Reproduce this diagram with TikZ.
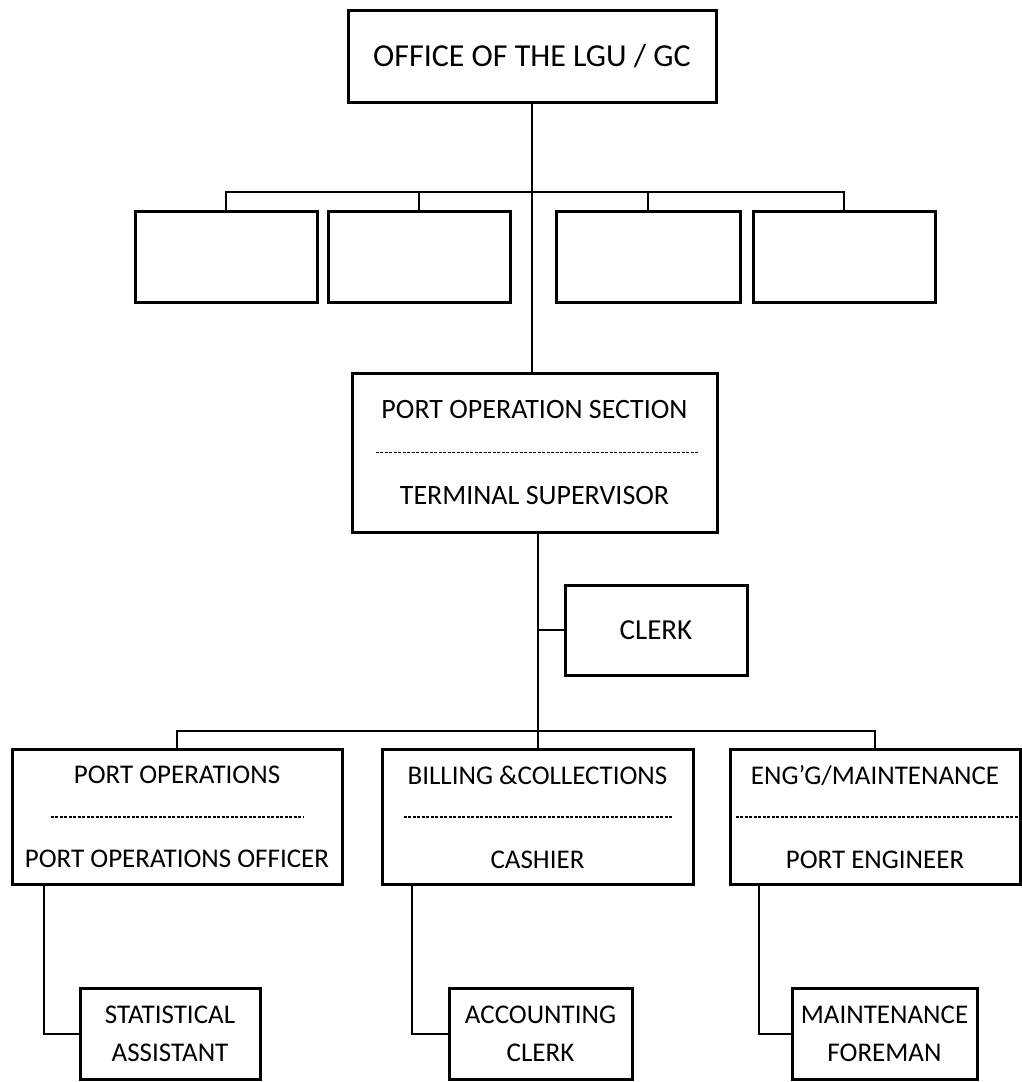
\documentclass[tikz,border=0pt]{standalone}
\usepackage{fontspec}
\setmainfont{Carlito}
\usetikzlibrary{calc}

\begin{document}
\begin{tikzpicture}[x=1pt,y=-1pt,
  BoxLine/.style={draw,line width=3pt,inner sep=0pt,align=center,font=\fontsize{27}{84}\selectfont},
  TwoLine/.style={BoxLine,minimum height=135pt},
  SmallBox/.style={BoxLine,minimum width=182pt,minimum height=91pt,font=\fontsize{27}{38}\selectfont},
  Link/.style={line width=2pt},
  Sep/.style={line width=1.5pt,dash pattern=on 3pt off 1.5pt}]
\useasboundingbox (0,0) rectangle (1022,1082);

\node[BoxLine,minimum width=368pt,minimum height=92pt,font=\fontsize{32}{38}\selectfont] (office) at (532,56) {OFFICE OF THE LGU / GC};

\node[SmallBox] (blankA) at (226,257) {};
\node[SmallBox] (blankB) at (419,257) {};
\node[SmallBox,minimum width=184pt] (blankC) at (648,257) {};
\node[SmallBox] (blankD) at (844,257) {};

\node[BoxLine,minimum width=365pt,minimum height=159pt,font=\fontsize{28}{86}\selectfont] (section) at (534.5,452.5) {PORT OPERATION SECTION\\TERMINAL SUPERVISOR};
\node[SmallBox,minimum height=90pt,font=\fontsize{29}{34}\selectfont] (clerk) at (656,630) {CLERK};

\node[TwoLine,minimum width=330pt] (portops) at (177,817) {PORT OPERATIONS\\PORT OPERATIONS OFFICER};
\node[TwoLine,minimum width=311pt] (billing) at (537.5,817) {BILLING \&COLLECTIONS\\CASHIER};
\node[TwoLine,minimum width=290pt] (engg) at (875,817) {ENG’G/MAINTENANCE\\PORT ENGINEER};

\node[SmallBox,minimum width=180pt] (statist) at (170,1034) {STATISTICAL\\ASSISTANT};
\node[SmallBox,minimum width=183pt] (acctg) at (540.5,1034) {ACCOUNTING\\CLERK};
\node[SmallBox,minimum width=185pt] (mainten) at (884.5,1034) {MAINTENANCE\\FOREMAN};

\draw[Sep] ([xshift=25pt]section.west) -- ([xshift=-20pt]section.east);
\draw[Sep] ([xshift=40pt]portops.west) -- ([xshift=-40pt]portops.east);
\draw[Sep] ([xshift=23pt]billing.west) -- ([xshift=-21pt]billing.east);
\draw[Sep] ([xshift=7pt]engg.west) -- ([xshift=-2pt]engg.east);

\draw[Link] (office.south) -- (office.south |- section.north);
\draw[Link] (blankA.north) -- ++(0,-18) -| (blankD.north);
\draw[Link] (blankB.north) -- ++(0,-18);
\draw[Link] (blankC.north) -- ++(0,-18);

\draw[Link] (billing.north |- section.south) -- (billing.north);
\draw[Link] (clerk.west) -- (clerk.west -| billing.north);
\draw[Link] (portops.north) -- ++(0,-17) -| (engg.north);

\draw[Link] ([xshift=33pt]portops.south west) |- (statist.west);
\draw[Link] ([xshift=31pt]billing.south west) |- (acctg.west);
\draw[Link] ([xshift=30pt]engg.south west) |- (mainten.west);
\end{tikzpicture}
\end{document}
